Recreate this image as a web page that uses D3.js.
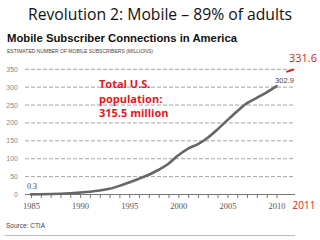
<!DOCTYPE html>
<html>
<head>
<meta charset="utf-8">
<script src="https://cdn.jsdelivr.net/npm/d3@7"></script>
<style>
  body { margin: 0; background: #fff; }
  svg { display: block; }
</style>
</head>
<body>
<div id="chart"></div>
<script>
// data (CTIA estimates, millions)
var years = [1985, 1986, 1987, 1988, 1989, 1990, 1991, 1992, 1993, 1994, 1995, 1996, 1997,
             1998, 1999, 2000, 2001, 2002, 2003, 2004, 2005, 2006, 2007, 2008, 2009, 2010];
var subscribers = [0.3, 0.7, 1.2, 2.1, 3.5, 5.3, 7.6, 11.0, 16.0, 24.1, 33.8, 44.0, 55.3,
                   69.2, 86.0, 109.5, 128.4, 140.8, 158.7, 182.1, 207.9, 233.0, 255.4, 270.3, 285.6, 302.9];
var yTicks = [0, 50, 100, 150, 200, 250, 300, 350];
var xLabels = [1985, 1990, 1995, 2000, 2005, 2010];
var markYears = [2011, 2011.8];
var markValues = [343, 350];
var noteLines = ["Total U.S.", "population:", "315.5 million"];

var W = 320, H = 240;
var svg = d3.select("#chart").append("svg")
    .attr("width", W)
    .attr("height", H);

var x = d3.scaleLinear().domain([1985, 2010]).range([31, 276.5]);
var y = d3.scaleLinear().domain([0, 350]).range([194.5, 69.3]);

var data = years.map(function(d, i) { return {year: d, value: subscribers[i]}; });

// titles
svg.append("text")
    .attr("x", 160).attr("y", 20)
    .attr("text-anchor", "middle")
    .attr("textLength", 264).attr("lengthAdjust", "spacingAndGlyphs")
    .style("font-family", "'Open Sans', sans-serif")
    .style("font-size", "16px")
    .style("fill", "#111")
    .text("Revolution 2: Mobile \u2013 89% of adults");

svg.append("text")
    .attr("x", 7).attr("y", 42)
    .attr("textLength", 230).attr("lengthAdjust", "spacingAndGlyphs")
    .style("font-family", "'Liberation Sans', Arial, sans-serif")
    .style("font-weight", "bold")
    .style("font-size", "11.5px")
    .style("fill", "#111")
    .text("Mobile Subscriber Connections in America");

svg.append("text")
    .attr("x", 7).attr("y", 52.5)
    .attr("textLength", 146).attr("lengthAdjust", "spacingAndGlyphs")
    .style("font-family", "'Liberation Sans', Arial, sans-serif")
    .style("font-size", "6px")
    .style("fill", "#444")
    .text("ESTIMATED NUMBER OF MOBILE SUBSCRIBERS (MILLIONS)");

// grid
var g = svg.append("g");

g.selectAll(".grid").data(yTicks.filter(function(d) { return d > 0; }))
  .enter().append("line")
    .attr("class", "grid")
    .attr("x1", 25).attr("x2", 295)
    .attr("y1", function(d) { return y(d); })
    .attr("y2", function(d) { return y(d); })
    .style("stroke", "#999")
    .style("stroke-width", 0.9)
    .style("stroke-dasharray", "4,2");

g.selectAll(".ylab").data(yTicks)
  .enter().append("text")
    .attr("class", "ylab")
    .attr("x", 18)
    .attr("y", function(d) { return y(d) + 2.5; })
    .attr("text-anchor", "end")
    .style("font-family", "'Liberation Sans', Arial, sans-serif")
    .style("font-size", "7px")
    .style("fill", "#888")
    .text(function(d) { return d; });

// x axis
g.append("line")
    .attr("x1", 25).attr("x2", 295)
    .attr("y1", y(0)).attr("y2", y(0))
    .style("stroke", "#777")
    .style("stroke-width", 1);

var xAxis = g.append("g")
    .attr("transform", "translate(0," + y(0) + ")")
    .call(d3.axisBottom(x)
      .tickValues(years)
      .tickSize(3.5)
      .tickFormat(function(d) { return xLabels.indexOf(d) >= 0 ? d : ""; }));
xAxis.select(".domain").remove();
xAxis.selectAll(".tick line").style("stroke", "#777");
xAxis.selectAll(".tick text")
    .attr("y", 8)
    .style("font-family", "'Liberation Serif', serif")
    .style("font-size", "8.5px")
    .style("fill", "#555");

// the line
var line = d3.line()
    .curve(d3.curveMonotoneX)
    .x(function(d) { return x(d.year); })
    .y(function(d) { return y(d.value); });

g.append("path")
    .datum(data)
    .attr("d", line)
    .style("fill", "none")
    .style("stroke", "#666")
    .style("stroke-width", 2.6)
    .style("stroke-linecap", "round");

// end labels
g.append("text")
    .attr("x", x(years[0]) - 4).attr("y", y(subscribers[0]) - 5)
    .style("font-family", "'Liberation Serif', serif")
    .style("font-size", "8px")
    .style("fill", "#444")
    .text(subscribers[0]);

g.append("text")
    .attr("x", x(2010) + 8).attr("y", y(302.9) - 3)
    .attr("text-anchor", "middle")
    .style("font-family", "'Liberation Sans', Arial, sans-serif")
    .style("font-size", "7.5px")
    .style("fill", "#444")
    .text("302.9");

// red annotations
var red = "#e3161d";
g.append("path")
    .datum(markYears.map(function(d, i) { return {year: d, value: markValues[i]}; }))
    .attr("d", d3.line().x(function(d) { return x(d.year); }).y(function(d) { return y(d.value); }))
    .style("stroke", red)
    .style("stroke-width", 1.8)
    .style("fill", "none");

svg.append("text")
    .attr("x", 303).attr("y", 62)
    .attr("text-anchor", "middle")
    .style("font-family", "'Open Sans', sans-serif")
    .style("font-size", "11px")
    .style("fill", red)
    .text("331.6");

svg.append("text")
    .attr("x", 304).attr("y", 209)
    .attr("text-anchor", "middle")
    .style("font-family", "'Open Sans', sans-serif")
    .style("font-size", "10px")
    .style("fill", red)
    .text("2011");

svg.append("g").selectAll("text").data(noteLines)
  .enter().append("text")
    .attr("x", 99)
    .attr("y", function(d, i) { return 88 + i * 14.5; })
    .style("font-family", "'Open Sans', sans-serif")
    .style("font-weight", "bold")
    .style("font-size", "11px")
    .style("fill", red)
    .text(function(d) { return d; });

// source + rule
svg.append("text")
    .attr("x", 6).attr("y", 228)
    .style("font-family", "'Liberation Sans', Arial, sans-serif")
    .style("font-size", "6.5px")
    .style("fill", "#444")
    .text("Source: CTIA");

svg.append("line")
    .attr("x1", 5).attr("x2", 295)
    .attr("y1", 235.5).attr("y2", 235.5)
    .style("stroke", "#bbb")
    .style("stroke-width", 1);
</script>
</body>
</html>
